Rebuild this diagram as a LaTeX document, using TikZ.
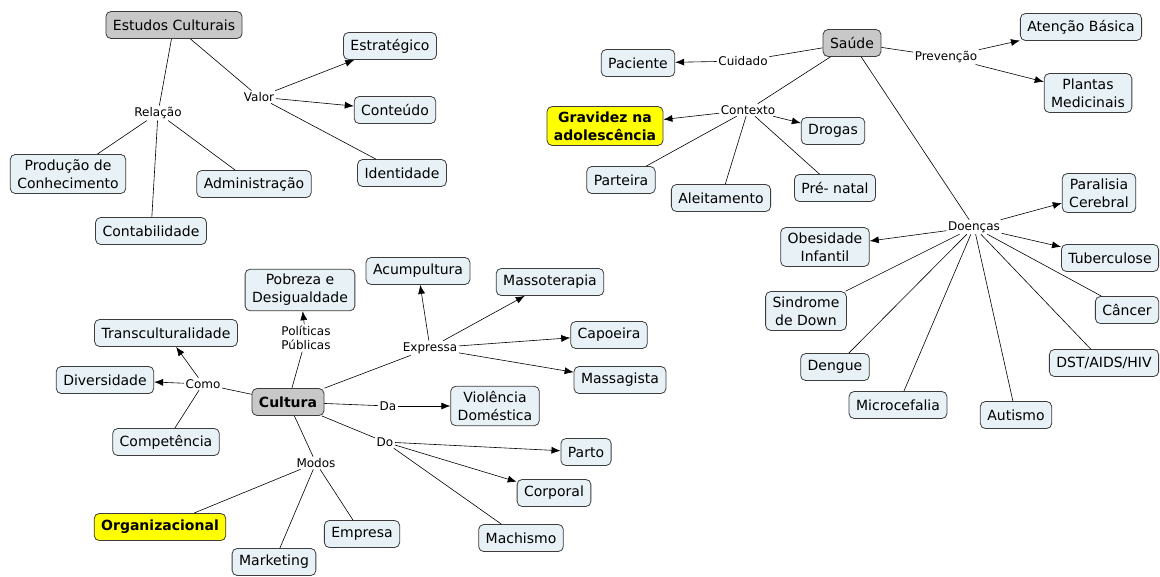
\documentclass[tikz,border=0pt]{standalone}
\usepackage{fontspec}
\setmainfont{DejaVu Sans}
\usetikzlibrary{arrows.meta}
\definecolor{conceptFill}{RGB}{232,241,246}
\definecolor{conceptLine}{RGB}{60,60,60}
\definecolor{hubFill}{RGB}{200,200,200}
\definecolor{markFill}{RGB}{255,255,0}

\begin{document}
\begin{tikzpicture}[x=1pt, y=-1pt,
  every node/.style={font=\fontsize{14}{18}\selectfont},
  concept/.style={draw=conceptLine, fill=conceptFill, rounded corners=5pt,
    minimum height=27pt, inner xsep=7pt, inner ysep=5pt, align=center, line width=0.8pt},
  hub/.style={concept, fill=hubFill},
  marked/.style={concept, fill=markFill, font=\fontsize{14}{18}\selectfont\bfseries},
  linkword/.style={inner sep=1.5pt, font=\fontsize{12}{14}\selectfont, align=center},
  link/.style={line width=0.6pt},
  linkto/.style={link, -{Latex[length=9pt, width=7pt]}},
]
\useasboundingbox (0,0) rectangle (1160,576);
% ESTUDOS CULTURAIS
\node[hub] (estudos) at (174, 25) {Estudos Culturais};
\node[linkword] (relacao) at (158, 113) {Relação};
\node[linkword] (valor) at (259, 97) {Valor};
\node[concept] (estrategico) at (390, 46) {Estratégico};
\node[concept] (conteudo) at (395, 110) {Conteúdo};
\node[concept] (identidade) at (402, 173) {Identidade};
\node[concept] (producao) at (68, 174) {Produção de\\Conhecimento};
\node[concept] (administracao) at (254, 184) {Administração};
\node[concept] (contabilidade) at (151, 231) {Contabilidade};
\draw[link] (estudos) -- (relacao);
\draw[link] (relacao) -- (producao);
\draw[link] (relacao) -- (administracao);
\draw[link] (relacao) -- (contabilidade);
\draw[link] (estudos) -- (valor);
\draw[linkto] (valor) -- (estrategico);
\draw[linkto] (valor) -- (conteudo);
\draw[link] (valor) -- (identidade);
% SAUDE
\node[hub] (saude) at (852, 43) {Saúde};
\node[linkword] (cuidado) at (743, 61) {Cuidado};
\node[linkword] (prevencao) at (946, 57) {Prevenção};
\node[linkword] (contexto) at (748, 110) {Contexto};
\node[linkword] (doencas) at (974, 227) {Doenças};
\node[concept] (paciente) at (638, 63) {Paciente};
\node[concept] (atencao) at (1081, 27) {Atenção Básica};
\node[concept] (plantas) at (1088, 93) {Plantas\\Medicinais};
\node[marked] (gravidez) at (605, 126) {Gravidez na\\adolescência};
\node[concept] (drogas) at (833, 131) {Drogas};
\node[concept] (parteira) at (621, 180) {Parteira};
\node[concept] (aleitamento) at (721, 198) {Aleitamento};
\node[concept] (prenatal) at (835, 188) {Pré- natal};
\draw[link] (saude) -- (cuidado);
\draw[linkto] (cuidado) -- (paciente);
\draw[link] (saude) -- (prevencao);
\draw[linkto] (prevencao) -- (atencao);
\draw[linkto] (prevencao) -- (plantas);
\draw[link] (saude) -- (contexto);
\draw[linkto] (contexto) -- (gravidez);
\draw[linkto] (contexto) -- (drogas);
\draw[link] (contexto) -- (parteira);
\draw[link] (contexto) -- (aleitamento);
\draw[link] (contexto) -- (prenatal);
% DOENCAS
\node[concept] (paralisia) at (1099, 193) {Paralisia\\Cerebral};
\node[concept] (obesidade) at (825, 247) {Obesidade\\Infantil};
\node[concept] (tuberculose) at (1110, 258) {Tuberculose};
\node[concept] (cancer) at (1127, 310) {Câncer};
\node[concept] (down) at (806, 311) {Sindrome\\de Down};
\node[concept] (dst) at (1104, 363) {DST/AIDS/HIV};
\node[concept] (dengue) at (835, 367) {Dengue};
\node[concept] (microcefalia) at (898, 405) {Microcefalia};
\node[concept] (autismo) at (1016, 415) {Autismo};
\draw[link] (saude) -- (doencas);
\draw[linkto] (doencas) -- (paralisia);
\draw[linkto] (doencas) -- (obesidade);
\draw[linkto] (doencas) -- (tuberculose);
\foreach \d in {cancer, down, dst, dengue, microcefalia, autismo}
  \draw[link] (doencas) -- (\d);
% CULTURA
\node[hub, font=\fontsize{14}{18}\selectfont\bfseries] (cultura) at (288, 402) {Cultura};
\node[linkword] (como) at (203, 384) {Como};
\node[linkword] (politicas) at (306, 338) {Políticas\\Públicas};
\node[linkword] (expressa) at (430, 348) {Expressa};
\node[linkword] (da) at (388, 406) {Da};
\node[linkword] (do) at (385, 442) {Do};
\node[linkword] (modos) at (316, 463) {Modos};
\node[concept] (transcult) at (166, 333) {Transculturalidade};
\node[concept] (diversidade) at (105, 380) {Diversidade};
\node[concept] (competencia) at (166, 442) {Competência};
\node[concept] (pobreza) at (300, 290) {Pobreza e\\Desigualdade};
\node[concept] (acumpultura) at (418, 271) {Acumpultura};
\node[concept] (massoterapia) at (550, 282) {Massoterapia};
\node[concept] (capoeira) at (609, 335) {Capoeira};
\node[concept] (massagista) at (620, 380) {Massagista};
\node[concept] (violencia) at (495, 406) {Violência\\Doméstica};
\node[concept] (parto) at (586, 452) {Parto};
\node[concept] (corporal) at (554, 493) {Corporal};
\node[concept] (machismo) at (521, 538) {Machismo};
\node[marked] (organizacional) at (160, 527) {Organizacional};
\node[concept] (marketing) at (274, 562) {Marketing};
\node[concept] (empresa) at (362, 534) {Empresa};
\draw[link] (cultura) -- (como);
\draw[linkto] (como) -- (transcult);
\draw[linkto] (como) -- (diversidade);
\draw[link] (como) -- (competencia);
\draw[link] (cultura) -- (politicas);
\draw[linkto] (politicas) -- (pobreza);
\draw[link] (cultura) -- (expressa);
\foreach \e in {acumpultura, massoterapia, capoeira, massagista}
  \draw[linkto] (expressa) -- (\e);
\draw[link] (cultura) -- (da);
\draw[linkto] (da) -- (violencia);
\draw[link] (cultura) -- (do);
\draw[linkto] (do) -- (parto);
\draw[linkto] (do) -- (corporal);
\draw[link] (do) -- (machismo);
\draw[link] (cultura) -- (modos);
\foreach \m in {organizacional, marketing, empresa}
  \draw[link] (modos) -- (\m);
\end{tikzpicture}
\end{document}
